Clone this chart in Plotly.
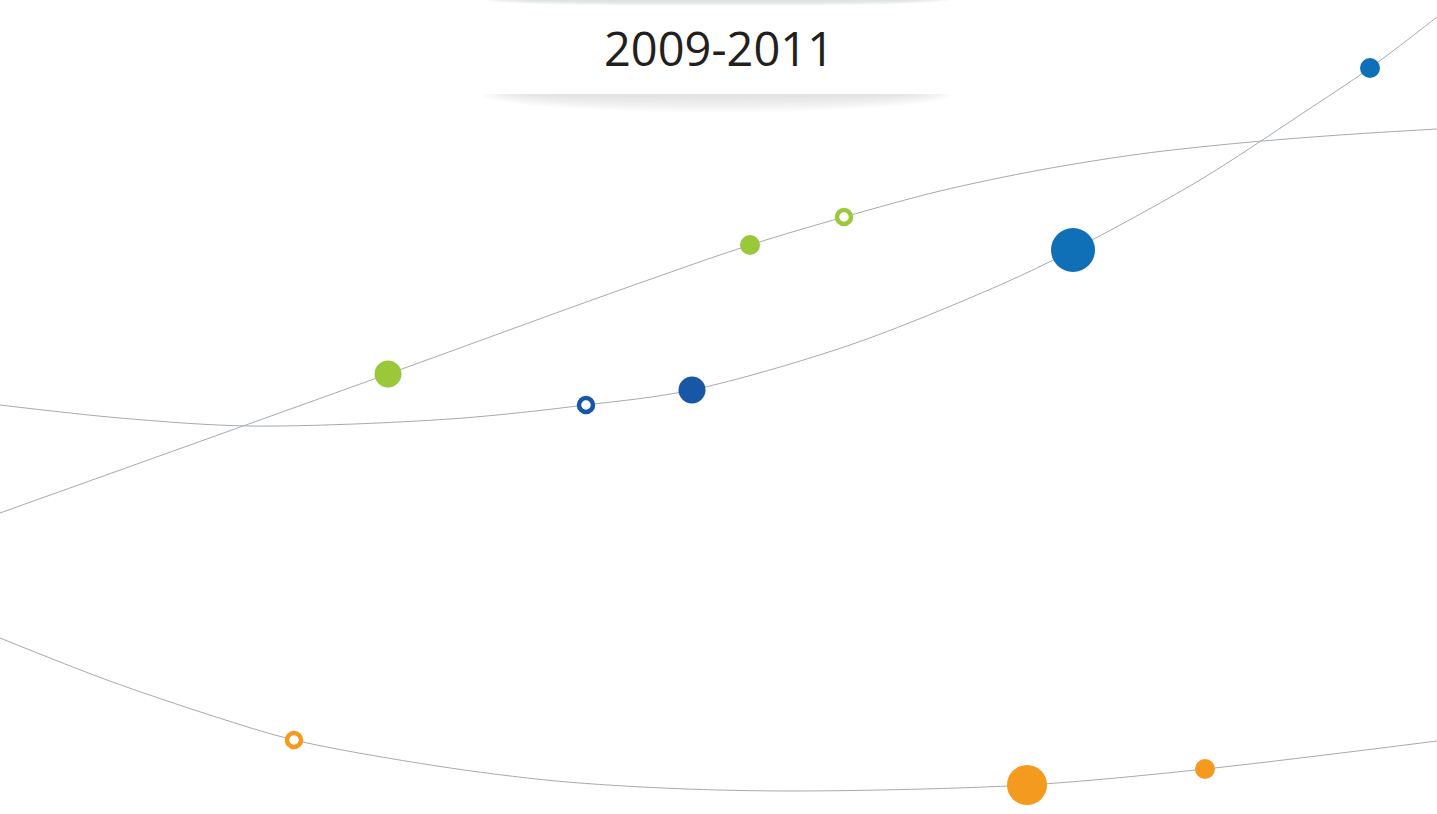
import plotly.graph_objects as go

# Curve knots (pixel-space data)
green_x = [0, 388, 620, 750, 844, 940, 1040, 1140, 1240, 1340, 1437]
green_y = [513, 374, 290, 245, 217, 191, 170, 154, 143, 135, 129]

blue_x = [0, 120, 250, 450, 586, 692, 850, 1000, 1073, 1200, 1300, 1370, 1437]
blue_y = [405, 418, 426, 419, 405, 390, 345, 285, 250, 180, 115, 68, 17]

orange_x = [0, 107, 213, 294, 437, 556, 674, 800, 1027, 1205, 1437]
orange_y = [638, 680, 716, 740, 766, 781, 788.5, 791, 785, 769, 741]

# Dots
dot_x = [388, 750, 844, 586, 692, 1073, 1370, 294, 1027, 1205]
dot_y = [374, 245, 217, 405, 390, 250, 68, 740, 785, 769]
dot_size = [27, 20, 14, 14, 27, 44, 20, 14, 40, 20]
dot_color = ["#9bc83b", "#9bc83b", "#9bc83b", "#1757a6", "#1757a6", "#0f70b7",
             "#0f70b7", "#f39a1f", "#f39a1f", "#f39a1f"]
dot_hollow = [False, False, True, True, False, False, False, True, False, False]

title_text = "2009-2011"

W, H = 1437, 814
fig = go.Figure()

line_style = dict(color="#a3abb0", width=1, shape="spline", smoothing=0.9)
for xs, ys in [(green_x, green_y), (blue_x, blue_y), (orange_x, orange_y)]:
    fig.add_trace(go.Scatter(x=xs, y=ys, mode="lines", line=line_style,
                             hoverinfo="skip", showlegend=False))

fig.add_trace(go.Scatter(
    x=dot_x, y=dot_y, mode="markers", showlegend=False,
    marker=dict(
        size=dot_size,
        color=["white" if h else c for c, h in zip(dot_color, dot_hollow)],
        line=dict(color=dot_color, width=[4.5 if h else 0 for h in dot_hollow]),
        opacity=1,
    ),
))

# Title card with soft shadows
shapes = []
cx = 717
for i in range(8):
    rx = 235 - i * 6
    ry = 18 - i * 2
    shapes.append(dict(type="circle", xref="x", yref="y",
                       x0=cx - rx, x1=cx + rx, y0=94 - ry, y1=94 + ry,
                       fillcolor="#c9cfd0", opacity=0.08, line=dict(width=0),
                       layer="below"))
for i in range(6):
    rx = 232 - i * 8
    ry = 6 - i * 0.8
    shapes.append(dict(type="circle", xref="x", yref="y",
                       x0=cx - rx, x1=cx + rx, y0=-ry, y1=ry,
                       fillcolor="#c9cfd0", opacity=0.12, line=dict(width=0),
                       layer="below"))
shapes.append(dict(type="rect", xref="x", yref="y", x0=cx - 240, x1=cx + 240,
                   y0=5, y1=94, fillcolor="white", line=dict(width=0), layer="below"))

fig.update_layout(
    width=W, height=H,
    margin=dict(l=0, r=0, t=0, b=0),
    paper_bgcolor="white", plot_bgcolor="white",
    xaxis=dict(range=[0, W], visible=False, fixedrange=True),
    yaxis=dict(range=[H, 0], visible=False, fixedrange=True),
    shapes=shapes,
    annotations=[dict(x=cx + 2, y=48, xref="x", yref="y", text=title_text,
                      showarrow=False, xanchor="center", yanchor="middle",
                      font=dict(family="Open Sans, Noto Sans, sans-serif",
                                size=47, color="#231f20"))],
)

fig.write_html("out.html", config={"displayModeBar": False},
               post_script="document.body.style.margin='0';document.body.style.overflow='hidden';")
